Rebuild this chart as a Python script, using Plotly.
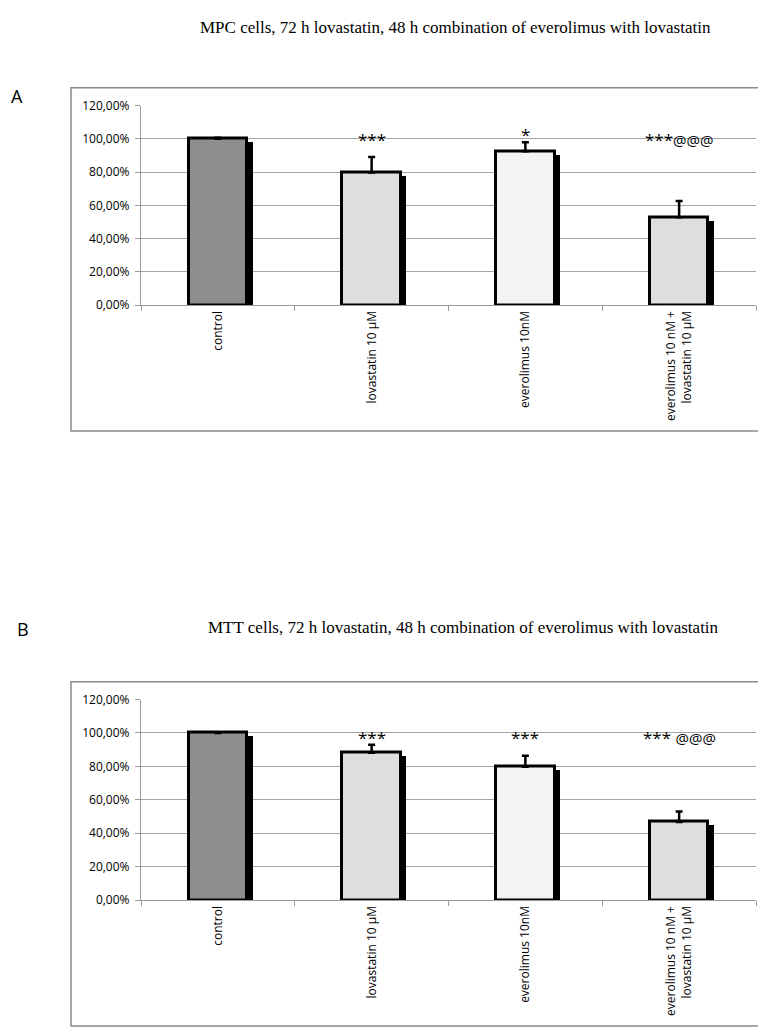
import plotly.graph_objects as go

W, H = 766, 1027

categories = ["control", "lovastatin 10 µM", "everolimus 10nM",
              "everolimus 10 nM +<br>lovastatin 10 µM"]
bar_colors = ["#8e8e8e", "#dedede", "#f3f3f3", "#dedede"]

# Panel A (MPC cells)
values_a = [100.0, 79.8, 92.5, 52.8]
errors_a = [0.6, 9.2, 5.4, 9.8]
marks_a = ["", "***", "*", "***@@@"]
mark_y_a = [0, 99.5, 102.5, 99.5]

# Panel B (MTT cells)
values_b = [100.0, 88.2, 79.8, 46.8]
errors_b = [0.0, 4.8, 6.6, 6.2]
marks_b = ["", "***", "***", "*** @@@"]
mark_y_b = [0, 97.5, 97.5, 97.5]

title_a = "MPC cells, 72 h lovastatin, 48 h combination of everolimus with lovastatin"
title_b = "MTT cells, 72 h lovastatin, 48 h combination of everolimus with lovastatin"

y_ticks = [0, 20, 40, 60, 80, 100, 120]
y_tick_text = ["0,00%", "20,00%", "40,00%", "60,00%", "80,00%", "100,00%", "120,00%"]


def px_x(x):
    return x / W


def px_y(y):
    return 1 - y / H


fig = go.Figure()

panels = [
    ("x", "y", values_a, errors_a, marks_a, mark_y_a),
    ("x2", "y2", values_b, errors_b, marks_b, mark_y_b),
]

BW = 0.38
for xa, ya, vals, errs, marks, my in panels:
    # shadow bars (offset right and down)
    fig.add_trace(go.Bar(
        x=categories, y=[v - 1.8 for v in vals], xaxis=xa, yaxis=ya,
        width=BW, offset=-BW / 2 + 0.036,
        marker=dict(color="#000000", line=dict(width=0)),
        showlegend=False, hoverinfo="skip"))
    fig.add_trace(go.Bar(
        x=categories, y=vals, xaxis=xa, yaxis=ya,
        width=BW, offset=-BW / 2,
        marker=dict(color=bar_colors, line=dict(color="#000000", width=3)),
        error_y=dict(type="data", symmetric=False, array=errs,
                     arrayminus=[0] * len(errs), color="#000000",
                     thickness=2.5, width=3.5),
        showlegend=False))
    for c, m, yy in zip(categories, marks, my):
        if m:
            txt = m.replace("@@@", "<span style='font-size:15px'>@@@</span>")
            fig.add_annotation(x=c, y=yy, xref=xa, yref=ya, text=txt,
                               showarrow=False, yanchor="middle",
                               font=dict(family="Open Sans", size=17, color="#000"))

axis_common = dict(showline=True, linecolor="#9a9a9a", linewidth=1.2)
tick_font = dict(family="Open Sans", size=12, color="#000")

fig.update_layout(
    width=W, height=H,
    margin=dict(l=0, r=0, t=0, b=0),
    paper_bgcolor="white", plot_bgcolor="white",
    barmode="overlay", bargap=0,
    xaxis=dict(domain=[px_x(133), px_x(748)], anchor="y", type="category",
               tickson="boundaries", ticks="outside", ticklen=5, tickcolor="#9a9a9a",
               tickangle=-90, tickfont=tick_font, **axis_common),
    yaxis=dict(domain=[px_y(293), px_y(90)], anchor="x", range=[0, 120],
               tickvals=y_ticks, ticktext=y_tick_text, ticks="outside", ticklen=5,
               tickcolor="#9a9a9a", showgrid=True, gridcolor="#a4a4a4", gridwidth=1,
               tickfont=tick_font, ticklabelstandoff=3, zeroline=False, **axis_common),
    xaxis2=dict(domain=[px_x(133), px_x(748)], anchor="y2", type="category",
                tickson="boundaries", ticks="outside", ticklen=5, tickcolor="#9a9a9a",
                tickangle=-90, tickfont=tick_font, **axis_common),
    yaxis2=dict(domain=[px_y(898), px_y(694)], anchor="x2", range=[0, 120],
                tickvals=y_ticks, ticktext=y_tick_text, ticks="outside", ticklen=5,
                tickcolor="#9a9a9a", showgrid=True, gridcolor="#a4a4a4", gridwidth=1,
                tickfont=tick_font, ticklabelstandoff=3, zeroline=False, **axis_common),
)

# outer frames
for (x0, y0, x1, y1) in [(63, 72, 765, 421), (63, 676, 765, 1026)]:
    fig.add_shape(type="rect", xref="paper", yref="paper",
                  x0=px_x(x0), x1=px_x(x1), y0=px_y(y1), y1=px_y(y0),
                  line=dict(color="#8a8a8a", width=1.5), fillcolor="rgba(0,0,0,0)")

# titles
fig.add_annotation(x=px_x(447), y=px_y(11), xref="paper", yref="paper", text=title_a,
                   showarrow=False, xanchor="center", yanchor="middle",
                   font=dict(family="Liberation Serif", size=17, color="#000"))
fig.add_annotation(x=px_x(455), y=px_y(621), xref="paper", yref="paper", text=title_b,
                   showarrow=False, xanchor="center", yanchor="middle",
                   font=dict(family="Liberation Serif", size=17, color="#000"))

# panel letters
fig.add_annotation(x=px_x(9), y=px_y(80), xref="paper", yref="paper", text="A",
                   showarrow=False, xanchor="center", yanchor="middle",
                   font=dict(family="Open Sans", size=18, color="#000"))
fig.add_annotation(x=px_x(15), y=px_y(622), xref="paper", yref="paper", text="B",
                   showarrow=False, xanchor="center", yanchor="middle",
                   font=dict(family="Open Sans", size=18, color="#000"))

fig.write_html("out.html")
